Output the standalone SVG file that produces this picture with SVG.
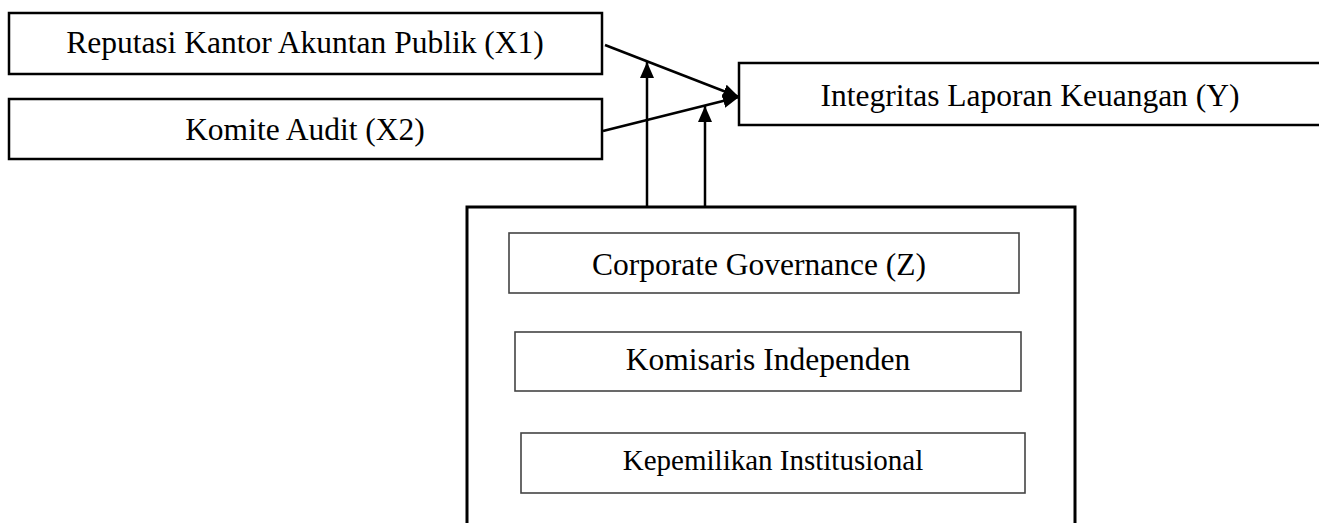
<svg xmlns="http://www.w3.org/2000/svg" width="1319" height="523" viewBox="0 0 1319 523">
<style>
.box{fill:#fff;stroke:#000;stroke-width:2.5}
.big{fill:#fff;stroke:#000;stroke-width:3}
.inner{fill:#fff;stroke:#444;stroke-width:1.6}
.t{font-family:"Liberation Serif","Times New Roman",serif;font-size:31.5px;fill:#000;text-anchor:middle}
.ts{font-size:29px}
.c{stroke:#000;stroke-width:2.5;fill:none}
</style>
<defs>
<marker id="ah" viewBox="0 0 16 14" markerWidth="16" markerHeight="14" refX="16" refY="7" orient="auto" markerUnits="userSpaceOnUse">
<path d="M0,0 L16,7 L0,14 z" fill="#000"/>
</marker>
</defs>
<g id="x1"><rect class="box" x="9" y="13" width="593" height="61"/><text class="t" x="305" y="53">Reputasi Kantor Akuntan Publik (X1)</text></g>
<g id="x2"><rect class="box" x="9" y="99" width="593" height="60"/><text class="t" x="305" y="140">Komite Audit (X2)</text></g>
<g id="y"><rect class="box" x="739" y="63" width="590" height="62"/><text class="t" x="1030" y="106">Integritas Laporan Keuangan (Y)</text></g>
<g id="z">
<rect class="big" x="467" y="207" width="608" height="330"/>
<g id="z-cg"><rect class="inner" x="509" y="233" width="510" height="60"/><text class="t" x="759" y="275">Corporate Governance (Z)</text></g>
<g id="z-ki"><rect class="inner" x="515" y="332" width="506" height="59"/><text class="t" x="768" y="370">Komisaris Independen</text></g>
<g id="z-ko"><rect class="inner" x="521" y="433" width="504" height="60"/><text class="t ts" x="773" y="470">Kepemilikan Institusional</text></g>
</g>
<g id="connectors">
<line class="c" x1="605" y1="45" x2="739" y2="97" marker-end="url(#ah)"/>
<line class="c" x1="603" y1="131" x2="739" y2="97" marker-end="url(#ah)"/>
<line class="c" x1="647" y1="206" x2="647" y2="62" marker-end="url(#ah)"/>
<line class="c" x1="705" y1="206" x2="705" y2="106" marker-end="url(#ah)"/>
</g>
</svg>
